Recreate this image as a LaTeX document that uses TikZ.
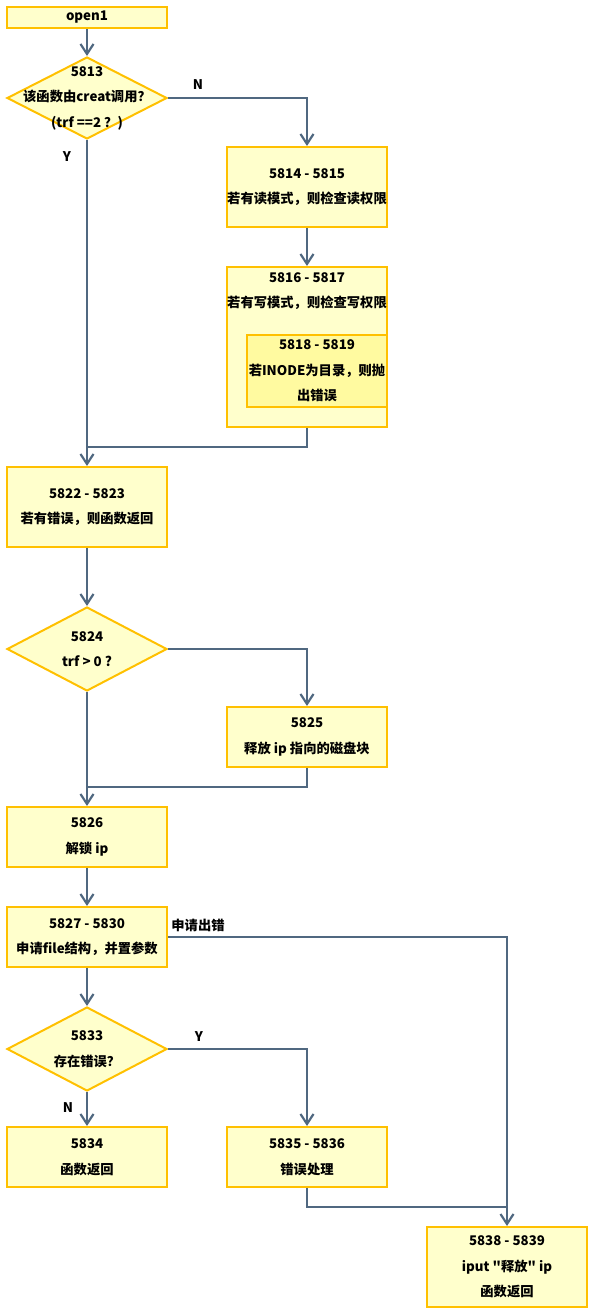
\documentclass[tikz,border=0pt]{standalone}
\usepackage{fontspec}
\setmainfont{Noto Sans CJK SC}
\usepackage{tikz}
\usetikzlibrary{arrows.meta, shapes.geometric}
\definecolor{boxfill}{RGB}{255,255,204}
\definecolor{boxline}{RGB}{255,192,0}
\definecolor{innerfill}{RGB}{255,250,160}
\definecolor{flowc}{RGB}{80,104,128}

\begin{document}
\begin{tikzpicture}[x=1pt, y=-1pt,
  every node/.style={font=\bfseries\fontsize{13.3}{25.5}\selectfont, align=center},
  box/.style={draw=boxline, fill=boxfill, line width=2pt, minimum width=160pt, inner sep=0pt},
  cond/.style={draw=boxline, fill=boxfill, line width=2pt, diamond, minimum width=160pt, minimum height=82pt, inner sep=0pt},
  line/.style={draw=flowc, line width=2.2pt},
  flow/.style={line, -{Straight Barb[length=10pt, width=13pt]}}]
  \useasboundingbox (0,0) rectangle (595,1315);

  \node[box, minimum height=21pt] (open1) at (87,17.5) {open1};
  \node[cond] (d5813) at (87,98) {};
  \node (t5813) at (87,98) {5813\\该函数由creat调用？\\(trf ==2 ？)};
  \node[box, minimum height=80pt] (b5814) at (307,187) {5814 - 5815\\若有读模式，则检查读权限};
  \node[box, minimum height=160pt] (b5816) at (307,347) {};
  \node (t5816) at (307,291) {5816 - 5817\\若有写模式，则检查写权限};
  \node[box, fill=innerfill, minimum width=140pt, minimum height=72pt] (b5818) at (317,371)
    {5818 - 5819\\若INODE为目录，则抛\\出错误};
  \node[box, minimum height=80pt] (b5822) at (87,507) {5822 - 5823\\若有错误，则函数返回};
  \node[cond, minimum height=84pt] (d5824) at (87,649) {};
  \node (t5824) at (87,649) {5824\\trf > 0 ?};
  \node[box, minimum height=60pt] (b5825) at (307,737) {5825\\释放 ip 指向的磁盘块};
  \node[box, minimum height=60pt] (b5826) at (87,837) {5826\\解锁 ip};
  \node[box, minimum height=60pt] (b5827) at (87,937) {5827 - 5830\\申请file结构，并置参数};
  \node[cond, minimum height=84pt] (d5833) at (87,1049) {};
  \node (t5833) at (87,1049) {5833\\存在错误？};
  \node[box, minimum height=60pt] (b5834) at (87,1157) {5834\\函数返回};
  \node[box, minimum height=60pt] (b5835) at (307,1157) {5835 - 5836\\错误处理};
  \node[box, minimum height=80pt] (b5838) at (507,1267)
    {5838 - 5839\\iput \textquotedbl 释放\textquotedbl{} ip\\函数返回};

  % branch labels
  \node (lN1) at (198,85) {N};
  \node (lY1) at (67,157) {Y};
  \node (lErr) at (198,925) {申请出错};
  \node (lY2) at (199,1037) {Y};
  \node (lN2) at (68,1108) {N};

  \coordinate (j1) at (87,447);
  \coordinate (j2) at (87,787);
  \coordinate (j3) at (507,1207);

  \draw[flow] (open1) -- (d5813);
  \draw[flow] (d5813.east) -| (b5814);
  \draw[flow] (b5814) -- (b5816);
  \draw[line] (b5816.south) |- (j1);
  \draw[flow] (d5813.south) -- (b5822);
  \draw[flow] (b5822) -- (d5824);
  \draw[flow] (d5824.east) -| (b5825);
  \draw[line] (b5825.south) |- (j2);
  \draw[flow] (d5824.south) -- (b5826);
  \draw[flow] (b5826) -- (b5827);
  \draw[flow] (b5827.east) -| (b5838.north);
  \draw[flow] (b5827) -- (d5833);
  \draw[flow] (d5833.east) -| (b5835);
  \draw[flow] (d5833.south) -- (b5834);
  \draw[line] (b5835.south) |- (j3);
\end{tikzpicture}
\end{document}
